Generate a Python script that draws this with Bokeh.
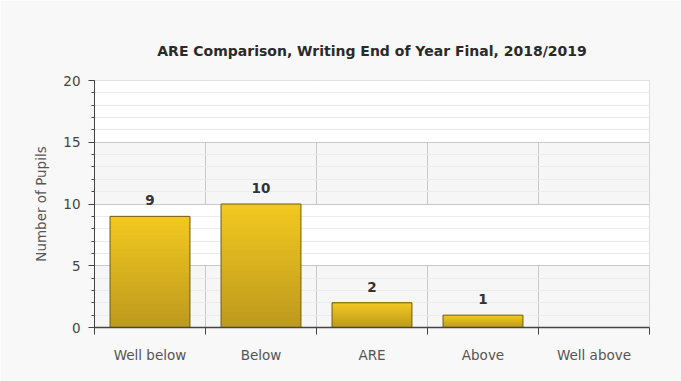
from bokeh.plotting import figure
from bokeh.models import ColumnDataSource, FixedTicker, Range1d
from bokeh.core.properties import value
from bokeh.embed import file_html
from bokeh.resources import INLINE

# ---- data ----
categories = ["Well below", "Below", "ARE", "Above", "Well above"]
pupils = [9, 10, 2, 1, 0]
y_ticks = [0, 5, 10, 15, 20]
title_text = "ARE Comparison, Writing End of Year Final, 2018/2019"
y_label = "Number of Pupils"

FONT = "DejaVu Sans"
TOP_RGB = (243, 202, 32)
BOT_RGB = (189, 153, 30)
N_SLICES = 24
BAR_W = 0.72

x_pos = [i + 0.5 for i in range(len(categories))]

p = figure(width=681, height=381, output_backend="svg", toolbar_location=None,
           x_range=Range1d(0, len(categories)), y_range=Range1d(0, 20),
           min_border_left=94, min_border_right=32, min_border_top=80, min_border_bottom=54)
p.background_fill_color = "#f6f6f6"
p.border_fill_color = "#f8f8f8"
p.outline_line_color = "#d4d4d4"

p.title.text = title_text
p.title.align = "center"
p.title.text_font = FONT
p.title.text_font_size = "14px"
p.title.text_font_style = "bold"
p.title.text_color = "#2a2a2a"
p.title.standoff = 43

# gradient bars: overlapping rectangles from each slice start up to the value
bottoms, tops, xs, colors = [], [], [], []
for xc, v in zip(x_pos, pupils):
    if v <= 0:
        continue
    for k in range(N_SLICES):
        bottoms.append(v * k / N_SLICES)
        tops.append(v)
        xs.append(xc)
        frac = (k + 0.5) / N_SLICES  # 0 bottom, 1 top
        r = int(BOT_RGB[0] + (TOP_RGB[0] - BOT_RGB[0]) * frac)
        g = int(BOT_RGB[1] + (TOP_RGB[1] - BOT_RGB[1]) * frac)
        b = int(BOT_RGB[2] + (TOP_RGB[2] - BOT_RGB[2]) * frac)
        colors.append("#%02x%02x%02x" % (r, g, b))
src_slices = ColumnDataSource(dict(x=xs, bottom=bottoms, top=tops, color=colors))
p.vbar(x="x", bottom="bottom", top="top", width=BAR_W, fill_color="color", line_color=None, source=src_slices)

src = ColumnDataSource(dict(x=x_pos, top=pupils, lab=[str(v) if v > 0 else "" for v in pupils]))
bars_src = ColumnDataSource(dict(x=[x for x, v in zip(x_pos, pupils) if v > 0], top=[v for v in pupils if v > 0]))
p.vbar(x="x", top="top", bottom=0, width=BAR_W, fill_color=None, line_color="#6e5c12", line_width=1, source=bars_src)

p.text(x="x", y="top", text="lab", source=src, y_offset=-11, text_align="center",
       text_baseline="bottom", text_font=value(FONT), text_font_size="13.5px",
       text_font_style="bold", text_color="#333333")

# y axis
p.yaxis.ticker = FixedTicker(ticks=y_ticks, minor_ticks=list(range(0, 21)))
p.yaxis.axis_label = y_label
p.yaxis.axis_label_text_font = FONT
p.yaxis.axis_label_text_font_size = "13.5px"
p.yaxis.axis_label_text_font_style = "normal"
p.yaxis.axis_label_text_color = "#555555"
p.yaxis.axis_label_standoff = 11
p.yaxis.major_label_text_font = FONT
p.yaxis.major_label_text_font_size = "13.5px"
p.yaxis.major_label_text_color = "#444444"
p.yaxis.major_label_standoff = 8
p.yaxis.major_tick_out = 6
p.yaxis.major_tick_in = 0
p.yaxis.minor_tick_out = 3
p.yaxis.minor_tick_in = 0
p.yaxis.axis_line_color = "#444444"
p.yaxis.major_tick_line_color = "#444444"
p.yaxis.minor_tick_line_color = "#444444"

# x axis: labels at centres, tick marks at boundaries
p.xaxis.ticker = FixedTicker(ticks=x_pos, minor_ticks=list(range(0, len(categories) + 1)))
p.xaxis.major_label_overrides = {x: c for x, c in zip(x_pos, categories)}
p.xaxis.major_tick_out = 0
p.xaxis.major_tick_in = 0
p.xaxis.minor_tick_out = 7
p.xaxis.minor_tick_in = 0
p.xaxis.major_label_standoff = 12
p.xaxis.major_label_text_font = FONT
p.xaxis.major_label_text_font_size = "13.5px"
p.xaxis.major_label_text_color = "#555555"
p.xaxis.axis_line_color = "#444444"
p.xaxis.axis_line_width = 1.5
p.xaxis.minor_tick_line_color = "#444444"

# grids
p.xgrid.ticker = FixedTicker(ticks=list(range(1, len(categories))))
p.xgrid.grid_line_color = "#c8c8c8"
p.ygrid.ticker = FixedTicker(ticks=y_ticks, minor_ticks=list(range(0, 21)))
p.ygrid.grid_line_color = "#c8c8c8"
p.ygrid.minor_grid_line_color = "#ececec"
p.ygrid.band_fill_color = "#ffffff"
p.ygrid.band_fill_alpha = 1.0

open("out.html", "w").write(file_html(p, INLINE))
